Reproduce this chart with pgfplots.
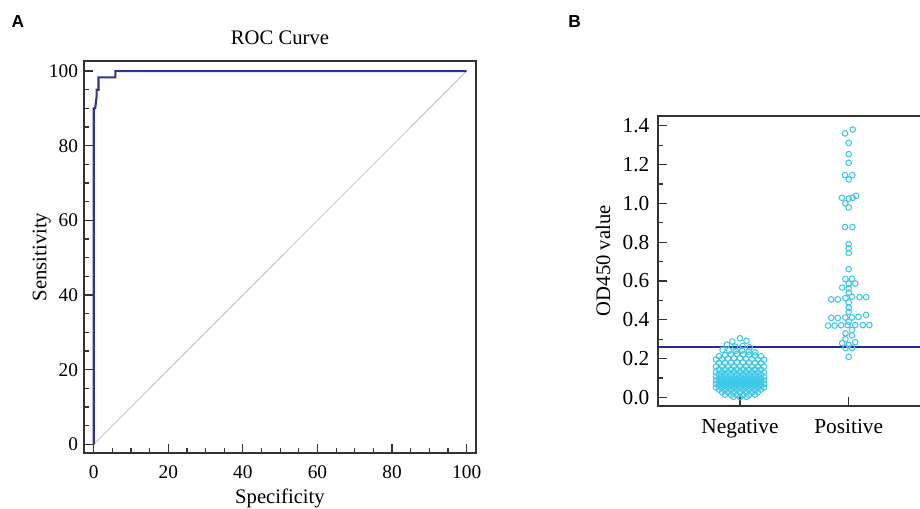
\documentclass[border=0pt]{standalone}
\usepackage{fontspec}
\setmainfont{Liberation Serif}
\setsansfont{Liberation Sans}
\usepackage{pgfplots}
\pgfplotsset{compat=1.18}
\definecolor{rocblue}{RGB}{50,50,155}
\definecolor{cutblue}{RGB}{40,40,150}
\definecolor{diaggrey}{RGB}{205,185,185}
\definecolor{dotcyan}{RGB}{60,200,232}
\definecolor{framegrey}{RGB}{50,50,50}

\pgfplotsset{
  panel/.style={
    scale only axis,
    anchor=south west,
    axis line style={line width=1.8pt, framegrey},
    tick align=inside,
    xtick pos=bottom, ytick pos=left,
    major tick length=6.5pt, minor tick length=3.5pt,
    every tick/.style={line width=0.9pt, framegrey},
    /pgf/number format/assume math mode=true,
    tick label style={font=\fontsize{14.5}{16}\selectfont},
    label style={font=\fontsize{15.5}{18}\selectfont},
    title style={font=\fontsize{15.5}{18}\selectfont},
  },
}

\begin{document}
\begin{tikzpicture}
% 1px of the reference = 0.75pt
\node[font=\sffamily\bfseries\fontsize{13}{15}\selectfont] at (13.5pt,364.5pt) {A};
\node[font=\sffamily\bfseries\fontsize{13}{15}\selectfont] at (430.9pt,364.5pt) {B};

% ---------- A: ROC curve ----------
\begin{axis}[panel,
    at={(63pt,41.25pt)}, width=294pt, height=294pt,
    xmin=-2.6, xmax=102.5, ymin=-2.3, ymax=102.7,
    xtick={0,20,...,100}, ytick={0,20,...,100},
    minor x tick num=3, minor y tick num=3,
    xticklabel style={anchor=center, yshift=-14pt},
    yticklabel style={xshift=-1pt},
    title={ROC Curve},
    title style={at={(0.5,1)}, anchor=south, yshift=3pt},
    xlabel={Specificity}, ylabel={Sensitivity},
    xlabel style={at={(axis description cs:0.5,-0.115)}, anchor=center},
    ylabel style={at={(axis description cs:-0.108,0.5)}, anchor=center},
]
\addplot[diaggrey, line width=0.6pt] coordinates {(0,0) (100,100)};
\addplot[rocblue, line width=1.6pt] coordinates {
  (0,0) (0,90) (0.4,90) (0.6,91.7) (0.8,93.3) (0.8,95) (1.3,95)
  (1.3,98.3) (5.8,98.3) (5.8,100) (100,100)};
\end{axis}

% ---------- B: dot plot ----------
\begin{axis}[panel,
    at={(493.5pt,76.7pt)}, width=204pt, height=217.5pt,
    xmin=-0.754, xmax=1.748, ymin=-0.043, ymax=1.452,
    xtick={0,1}, xticklabels={Negative,Positive},
    ytick={0,0.2,...,1.4}, minor y tick num=1,
    tick label style={font=\fontsize{16}{18}\selectfont},
    yticklabel style={/pgf/number format/.cd, fixed, fixed zerofill, precision=1, /tikz/.cd, xshift=-3pt},
    xticklabel style={anchor=base, yshift=-20.5pt},
    ylabel={OD450 value},
    ylabel style={at={(axis description cs:-0.202,0.5)}, anchor=center},
]
\addplot[cutblue, line width=1.4pt] coordinates {(-0.754,0.258) (1.748,0.258)};

% Negative group
\addplot[only marks, mark=o, mark size=2.1pt, dotcyan, mark options={line width=0.8pt}] coordinates {
  (-0.07,0.288) (0.00,0.305) (0.06,0.292)
  (-0.12,0.272) (-0.045,0.262) (0.025,0.265) (0.09,0.258)
  (-0.16,0.245) (-0.10,0.242) (-0.04,0.240) (0.02,0.242) (0.08,0.236) (0.14,0.232)
  (-0.193,0.212) (-0.138,0.218) (-0.083,0.222) (-0.028,0.225) (0.028,0.222) (0.083,0.220) (0.138,0.216) (0.193,0.212)
  (-0.22,0.195) (-0.165,0.198) (-0.11,0.200) (-0.055,0.202) (0,0.203) (0.055,0.200) (0.11,0.198) (0.165,0.196) (0.22,0.194)
  (-0.193,0.178) (-0.138,0.178) (-0.083,0.179) (-0.028,0.180) (0.028,0.180) (0.083,0.179) (0.138,0.178) (0.193,0.177)
  (-0.22,0.160) (-0.165,0.160) (-0.11,0.161) (-0.055,0.161) (0,0.161) (0.055,0.161) (0.11,0.160) (0.165,0.160) (0.22,0.159)
  (-0.193,0.144) (-0.138,0.144) (-0.083,0.144) (-0.028,0.145) (0.028,0.145) (0.083,0.144) (0.138,0.144) (0.193,0.143)
  (-0.22,0.130) (-0.165,0.130) (-0.11,0.130) (-0.055,0.131) (0,0.131) (0.055,0.131) (0.11,0.130) (0.165,0.130) (0.22,0.129)
  (-0.193,0.118) (-0.138,0.118) (-0.083,0.118) (-0.028,0.118) (0.028,0.118) (0.083,0.118) (0.138,0.118) (0.193,0.117)
  (-0.22,0.107) (-0.165,0.107) (-0.11,0.107) (-0.055,0.107) (0,0.107) (0.055,0.107) (0.11,0.107) (0.165,0.107) (0.22,0.106)
  (-0.193,0.097) (-0.138,0.097) (-0.083,0.097) (-0.028,0.097) (0.028,0.097) (0.083,0.097) (0.138,0.097) (0.193,0.097)
  (-0.22,0.088) (-0.165,0.088) (-0.11,0.088) (-0.055,0.088) (0,0.088) (0.055,0.088) (0.11,0.088) (0.165,0.088) (0.22,0.088)
  (-0.193,0.079) (-0.138,0.079) (-0.083,0.079) (-0.028,0.079) (0.028,0.079) (0.083,0.079) (0.138,0.079) (0.193,0.079)
  (-0.22,0.070) (-0.165,0.070) (-0.11,0.070) (-0.055,0.070) (0,0.070) (0.055,0.070) (0.11,0.070) (0.165,0.070) (0.22,0.070)
  (-0.193,0.061) (-0.138,0.061) (-0.083,0.061) (-0.028,0.061) (0.028,0.061) (0.083,0.061) (0.138,0.061) (0.193,0.061)
  (-0.22,0.051) (-0.165,0.051) (-0.11,0.051) (-0.055,0.051) (0,0.051) (0.055,0.051) (0.11,0.051) (0.165,0.051) (0.22,0.051)
  (-0.193,0.040) (-0.138,0.040) (-0.083,0.040) (-0.028,0.040) (0.028,0.040) (0.083,0.040) (0.138,0.040) (0.193,0.040)
  (-0.165,0.027) (-0.11,0.027) (-0.055,0.027) (0,0.027) (0.055,0.027) (0.11,0.027) (0.165,0.027)
  (-0.138,0.014) (-0.083,0.013) (-0.028,0.012) (0.028,0.012) (0.083,0.013) (0.138,0.014)
  (-0.06,0.003) (0.00,0.001) (0.06,0.003)
};

% Positive group
\addplot[only marks, mark=o, mark size=2.1pt, dotcyan, mark options={line width=0.8pt}] coordinates {
  (0.966,1.361) (1.037,1.381) (1.0,1.312) (1.0,1.254) (1.0,1.209)
  (0.966,1.146) (1.034,1.146) (1.0,1.124)
  (0.938,1.029) (1.0,1.024) (1.037,1.029) (1.067,1.039) (0.969,1.0) (1.0,0.979)
  (0.966,0.878) (1.034,0.878)
  (1.0,0.790) (1.0,0.768) (1.0,0.745)
  (1.0,0.661)
  (0.97,0.610) (1.03,0.612) (1.0,0.587) (1.06,0.587) (0.94,0.566) (1.0,0.562) (1.0,0.540)
  (0.84,0.505) (0.90,0.505) (0.97,0.512) (1.03,0.519) (1.10,0.517) (1.16,0.517) (1.0,0.49)
  (1.0,0.462) (1.0,0.441)
  (0.84,0.410) (0.90,0.410) (0.97,0.412) (1.03,0.412) (1.09,0.415) (1.16,0.425)
  (1.0,0.39)
  (0.81,0.370) (0.87,0.370) (0.93,0.372) (0.99,0.373) (1.06,0.373) (1.13,0.373) (1.19,0.373)
  (1.03,0.348) (0.97,0.33) (1.03,0.32)
  (0.97,0.30) (1.06,0.285) (0.94,0.28) (1.0,0.27) (0.97,0.255) (1.03,0.255)
  (1.0,0.209)
};
\end{axis}

\pgfresetboundingbox
\useasboundingbox (0,0) rectangle (690pt,381pt);
\end{tikzpicture}
\end{document}
